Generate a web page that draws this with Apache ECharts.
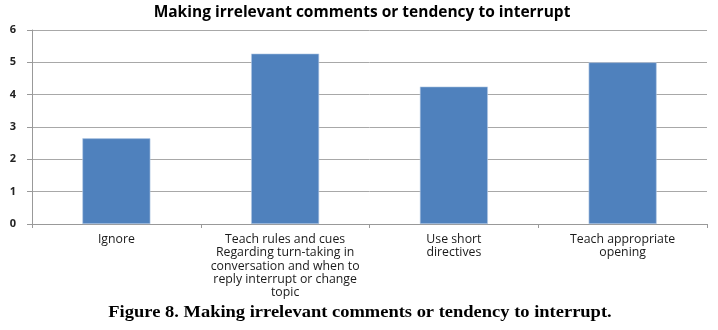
<!DOCTYPE html>
<html><head><meta charset="utf-8">
<script src="https://cdn.jsdelivr.net/npm/echarts@6/dist/echarts.min.js"></script>
<style>html,body{margin:0;padding:0;background:#fff}#c{width:718px;height:330px}</style>
</head><body><div id="c"></div>
<script>
const categories = [
  "Ignore",
  "Teach rules and cues\nRegarding turn-taking in\nconversation and when to\nreply interrupt or change\ntopic",
  "Use short\ndirectives",
  "Teach appropriate\nopening"
];
const values = [2.65, 5.27, 4.25, 5.0];
const yTicks = [0, 1, 2, 3, 4, 5, 6];
const titleText = "Making irrelevant comments or tendency to interrupt";
const captionText = "Figure 8. Making irrelevant comments or tendency to interrupt.";

const chart = echarts.init(document.getElementById('c'), null, {renderer: 'canvas'});
chart.setOption({
  animation: false,
  graphic: [{
    type: 'text', x: 362, y: 13,
    style: {text: titleText, font: 'bold 15.5px "Open Sans"', fill: '#000', align: 'center', verticalAlign: 'middle'}
  }, {
    type: 'text', x: 360, y: 313, scaleX: 1.12,
    style: {text: captionText, font: 'bold 16.5px "Liberation Serif"', fill: '#000', align: 'center', verticalAlign: 'middle'}
  }],
  grid: {left: 32, right: 11, top: 30, bottom: 106, containLabel: false},
  xAxis: {
    type: 'category', data: categories,
    axisLine: {lineStyle: {color: '#999'}},
    axisTick: {show: true, length: 4, lineStyle: {color: '#999'}},
    axisLabel: {interval: 0, color: '#1a1a1a', fontFamily: 'Open Sans', fontSize: 12.3, lineHeight: 13.3, margin: 9}
  },
  yAxis: {
    type: 'value', min: yTicks[0], max: yTicks[yTicks.length - 1], interval: 1,
    axisLine: {show: true, lineStyle: {color: '#999'}},
    axisTick: {show: true, length: 5, lineStyle: {color: '#999'}},
    splitLine: {lineStyle: {color: '#a8a8a8'}},
    axisLabel: {color: '#222', fontFamily: 'Open Sans', fontSize: 11, fontWeight: 'bold', margin: 16}
  },
  series: [{
    type: 'bar', data: values, barWidth: 68,
    itemStyle: {color: '#4f81bd', borderColor: '#b9cde5', borderWidth: 0.6}
  }]
});
</script></body></html>
